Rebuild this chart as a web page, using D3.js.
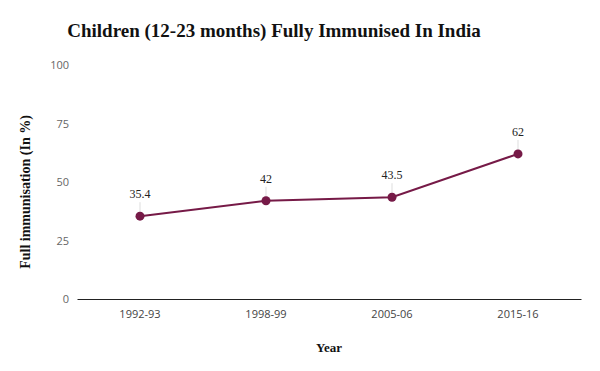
<!DOCTYPE html>
<html>
<head>
<meta charset="utf-8">
<script src="https://cdn.jsdelivr.net/npm/d3@7"></script>
<style>
  body { margin: 0; background: #fff; }
  svg { display: block; }
  .serif { font-family: "Liberation Serif", "DejaVu Serif", "Times New Roman", serif; }
  .sans { font-family: "Open Sans", "Noto Sans", sans-serif; }
</style>
</head>
<body>
<div id="chart"></div>
<script>
var years = ["1992-93", "1998-99", "2005-06", "2015-16"];
var immunised = [35.4, 42, 43.5, 62];
var yTicks = [0, 25, 50, 75, 100];

var width = 600, height = 371,
    margin = {top: 65, right: 19, bottom: 72, left: 77};

var svg = d3.select("#chart").append("svg")
    .attr("width", width)
    .attr("height", height);

var x = d3.scaleBand()
    .domain(years)
    .range([margin.left, width - margin.right])
    .padding(0);

var y = d3.scaleLinear()
    .domain([0, 100])
    .range([height - margin.bottom, margin.top]);

var data = years.map(function (d, i) { return {year: d, value: immunised[i]}; });
var cx = function (d) { return x(d.year) + x.bandwidth() / 2; };

// title
svg.append("text")
    .attr("class", "serif")
    .attr("x", 274)
    .attr("y", 37)
    .attr("text-anchor", "middle")
    .attr("font-weight", "bold")
    .attr("font-size", 19)
    .attr("fill", "#111")
    .text("Children (12-23 months) Fully Immunised In India");

// y axis (labels only)
var yAxis = svg.append("g")
    .attr("transform", "translate(" + margin.left + ",0)")
    .call(d3.axisLeft(y).tickValues(yTicks).tickSize(0).tickPadding(8));
yAxis.select(".domain").remove();
yAxis.attr("font-family", null);
yAxis.selectAll("text")
    .attr("class", "sans")
    .attr("font-size", 11)
    .attr("fill", "#666");

// x axis
var xAxis = svg.append("g")
    .attr("transform", "translate(0," + y(0) + ")")
    .call(d3.axisBottom(x).tickSize(0).tickPadding(11));
xAxis.attr("font-family", null);
xAxis.select(".domain").attr("stroke", "#222").attr("stroke-width", 1);
xAxis.selectAll("text")
    .attr("class", "sans")
    .attr("font-size", 11)
    .attr("fill", "#444");

// axis titles
svg.append("text")
    .attr("class", "serif")
    .attr("x", x.range()[0] + (x.range()[1] - x.range()[0]) / 2)
    .attr("y", 352)
    .attr("text-anchor", "middle")
    .attr("font-weight", "bold")
    .attr("font-size", 13)
    .attr("fill", "#111")
    .text("Year");

svg.append("text")
    .attr("class", "serif")
    .attr("transform", "translate(30,192) rotate(-90)")
    .attr("text-anchor", "middle")
    .attr("font-weight", "bold")
    .attr("font-size", 14)
    .attr("fill", "#111")
    .text("Full immunisation (In %)");

// connector lines from labels to points
svg.append("g").selectAll("line")
    .data(data)
    .enter().append("line")
    .attr("x1", cx)
    .attr("x2", cx)
    .attr("y1", function (d) { return y(d.value) - 14; })
    .attr("y2", function (d) { return y(d.value); })
    .attr("stroke", "#ddd")
    .attr("stroke-width", 1);

// line
var line = d3.line()
    .x(cx)
    .y(function (d) { return y(d.value); });

svg.append("path")
    .datum(data)
    .attr("fill", "none")
    .attr("stroke", "#761a47")
    .attr("stroke-width", 2)
    .attr("d", line);

svg.append("g").selectAll("circle")
    .data(data)
    .enter().append("circle")
    .attr("cx", cx)
    .attr("cy", function (d) { return y(d.value); })
    .attr("r", 4.5)
    .attr("fill", "#761a47");

// value labels
svg.append("g").selectAll("text")
    .data(data)
    .enter().append("text")
    .attr("class", "serif")
    .attr("x", cx)
    .attr("y", function (d) { return y(d.value) - 18; })
    .attr("text-anchor", "middle")
    .attr("font-size", 12)
    .attr("fill", "#222")
    .text(function (d) { return d.value; });
</script>
</body>
</html>
